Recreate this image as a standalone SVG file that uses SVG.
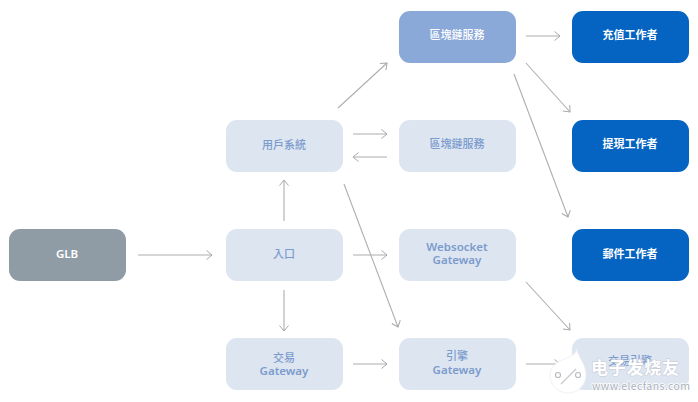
<svg xmlns="http://www.w3.org/2000/svg" width="698" height="402" viewBox="0 0 698 402">
<style>
.n{stroke:none}
.light{fill:#dde5f1}
.dark{fill:#0563c1}
.t{font-family:"Noto Sans CJK TC","Noto Sans",sans-serif;font-size:11px;font-weight:500;text-anchor:middle}
.b{font-weight:700}
.la{font-family:"Noto Sans",sans-serif;font-size:11.500px;font-weight:600}
.lt{fill:#7b9bcd}
.wt{fill:#fff}
.c line{stroke:#aeaeae;stroke-width:1.100;fill:none;marker-end:url(#a)}
.wm{font-family:"Noto Sans CJK SC",sans-serif;text-anchor:start;paint-order:stroke}
</style>
<defs>
<marker id="a" markerUnits="userSpaceOnUse" markerWidth="12" markerHeight="12" refX="7" refY="6" orient="auto"><path d="M1.500 1.500L7 6L1.500 10.500" fill="none" stroke="#a8a8a8" stroke-width="1"/></marker>
</defs>
<rect width="698" height="402" fill="#fff"/>
<g class="c" id="connectors">
<line x1="138" y1="255" x2="212" y2="255"/>
<line x1="284" y1="221" x2="284" y2="180"/>
<line x1="284" y1="290" x2="284" y2="331"/>
<line x1="338" y1="108" x2="387" y2="63"/>
<line x1="353" y1="134" x2="387" y2="134"/>
<line x1="387" y1="157" x2="353" y2="157"/>
<line x1="353" y1="255" x2="387" y2="255"/>
<line x1="344" y1="184" x2="398" y2="327"/>
<line x1="353" y1="364" x2="387" y2="364"/>
<line x1="526" y1="36" x2="560" y2="36"/>
<line x1="526" y1="63" x2="570" y2="112"/>
<line x1="514" y1="74" x2="568" y2="217"/>
<line x1="526" y1="282" x2="570" y2="330"/>
<line x1="526" y1="364" x2="560" y2="364"/>
</g>
<g id="glb"><rect class="n" x="9" y="229" width="117" height="52" rx="11" fill="#8f9ca6"/><text class="t la wt" x="67" y="258">GLB</text></g>
<g id="user"><rect class="n light" x="226" y="120" width="117" height="52" rx="11"/><text class="t lt" x="284" y="149">用戶系統</text></g>
<g id="entry"><rect class="n light" x="226" y="229" width="117" height="52" rx="11"/><text class="t lt" x="284" y="258">入口</text></g>
<g id="trade"><rect class="n light" x="226" y="338" width="117" height="52" rx="11"/><text class="t lt" x="284" y="362"><tspan x="284">交易</tspan><tspan class="la" x="284" dy="13">Gateway</tspan></text></g>
<g id="chain1"><rect class="n" x="399" y="11" width="117" height="52" rx="11" fill="#8aa8d8"/><text class="t wt" x="457" y="39">區塊鏈服務</text></g>
<g id="chain2"><rect class="n light" x="399" y="120" width="117" height="52" rx="11"/><text class="t lt" x="457" y="148">區塊鏈服務</text></g>
<g id="ws"><rect class="n light" x="399" y="229" width="117" height="52" rx="11"/><text class="t la lt" x="457" y="251"><tspan x="457">Websocket</tspan><tspan x="457" dy="13">Gateway</tspan></text></g>
<g id="engine"><rect class="n light" x="399" y="338" width="117" height="52" rx="11"/><text class="t lt" x="457" y="360"><tspan x="457">引擎</tspan><tspan class="la" x="457" dy="13.500">Gateway</tspan></text></g>
<g id="w1"><rect class="n dark" x="572" y="11" width="117" height="52" rx="11"/><text class="t b wt" x="630" y="39">充值工作者</text></g>
<g id="w2"><rect class="n dark" x="572" y="120" width="117" height="52" rx="11"/><text class="t b wt" x="630" y="148">提現工作者</text></g>
<g id="w3"><rect class="n dark" x="572" y="229" width="117" height="52" rx="11"/><text class="t b wt" x="630" y="258">郵件工作者</text></g>
<g id="exchange"><rect class="n light" x="572" y="338" width="117" height="52" rx="11"/><text class="t lt" x="630" y="365">交易引擎</text></g>
<g id="watermark">
<path d="M577 349C578 358 586 363 586 375A18 18 0 1 1 550 375C550 366 557 362 565 359C571 356 576 354 577 349Z" fill="#fff" stroke="#eceef1" stroke-width="0.800"/>
<path d="M561 384L576 369" stroke="#c4c8ce" stroke-width="1.200" fill="none"/>
<circle cx="558" cy="375" r="2.500" fill="none" stroke="#b8bcc2" stroke-width="1.200"/>
<circle cx="578" cy="375" r="2.500" fill="none" stroke="#b8bcc2" stroke-width="1.200"/>
<text class="wm" x="591" y="374" font-size="17" font-weight="700" fill="#fff" stroke="#c4cad3" stroke-width="1" textLength="88">电子发烧友</text>
<text class="wm" x="592" y="390" font-size="10.500" fill="#aab1ba" stroke="#fff" stroke-width="1.500" textLength="98">www.elecfans.com</text>
</g>
</svg>
